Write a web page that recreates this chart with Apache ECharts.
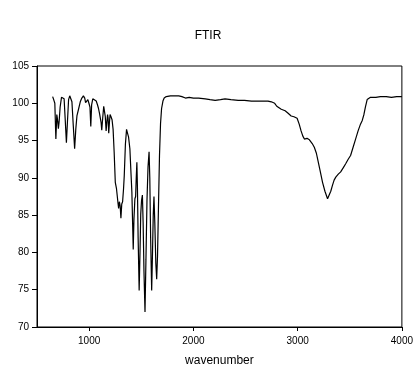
<!DOCTYPE html>
<html>
<head>
<meta charset="utf-8">
<script src="https://cdn.jsdelivr.net/npm/echarts@6/dist/echarts.min.js"></script>
<style>
html,body{margin:0;padding:0;background:#fff;}
#c{width:416px;height:372px;}
</style>
</head>
<body>
<div id="c"></div>
<script>
const titleText = 'FTIR';
const xAxisName = 'wavenumber';
const xTickValues = [1000, 2000, 3000, 4000];
const yTickMin = 70, yTickMax = 105, yTickStep = 5;

const wavenumber = [650,660,671,681,690,697,705,712,722,735,750,760,770,782,792,803,814,825,835,848,861,872,883,900,915,930,945,958,966,978,988,998,1008,1016,1024,1035,1050,1068,1080,1090,1100,1109,1115,1121,1130,1140,1148,1155,1163,1170,1177,1182,1188,1195,1201,1210,1220,1230,1240,1251,1262,1270,1278,1283,1290,1298,1305,1313,1321,1330,1337,1348,1359,1368,1378,1391,1402,1410,1417,1423,1430,1439,1446,1452,1458,1463,1470,1480,1488,1495,1503,1511,1518,1526,1536,1545,1555,1565,1575,1582,1590,1600,1608,1615,1622,1630,1640,1648,1656,1665,1675,1685,1695,1708,1720,1740,1780,1820,1860,1890,1924,1960,2000,2050,2114,2160,2209,2260,2304,2360,2430,2490,2557,2620,2685,2716,2748,2780,2800,2843,2880,2906,2938,2965,2995,3015,3033,3050,3065,3090,3113,3140,3160,3180,3192,3215,3239,3262,3287,3303,3318,3334,3350,3366,3390,3413,3440,3461,3485,3508,3530,3556,3580,3603,3620,3636,3650,3667,3699,3750,3794,3850,3900,3950,4000];
const transmittance = [100.9,100.5,100.0,95.2,98.5,97.8,96.6,97.5,99.5,100.8,101.0,100.6,98.0,94.7,97.5,100.5,101.0,100.8,100.2,97.0,93.9,96.5,98.3,99.3,100.2,100.7,101.0,100.7,100.1,100.3,100.5,100.0,99.5,96.9,99.8,100.6,100.5,100.3,99.8,99.3,98.6,98.4,97.4,96.4,98.0,99.6,99.4,98.2,96.3,97.5,98.5,98.0,96.0,97.5,98.5,98.2,97.8,96.5,93.5,89.4,88.6,88.4,86.5,85.9,86.8,86.2,84.6,86.5,86.8,88.5,90.3,94.5,96.5,96.0,95.5,93.9,90.5,88.1,84.0,80.4,84.5,87.2,87.5,90.0,92.1,89.0,82.0,74.9,80.0,85.1,87.0,87.7,84.0,77.5,72.0,79.0,87.0,91.5,93.5,90.0,82.0,74.9,80.0,85.0,87.5,84.0,78.5,76.4,79.5,86.0,93.0,97.3,99.3,100.3,100.7,100.9,101.0,101.0,101.0,100.9,100.7,100.8,100.7,100.7,100.6,100.5,100.4,100.5,100.6,100.5,100.4,100.4,100.3,100.3,100.3,100.3,100.2,100.0,99.6,99.2,99.0,98.7,98.3,98.2,98.0,97.2,96.3,95.6,95.2,95.3,95.1,94.6,94.1,93.3,92.5,91.0,89.4,88.2,87.2,87.2,88.2,89.0,89.7,90.1,90.5,90.8,91.4,91.9,92.5,93.0,94.0,95.2,96.3,97.2,97.7,98.5,99.5,100.5,100.8,100.8,100.9,100.9,100.8,100.9,100.9];

const seriesData = wavenumber.map((w, i) => [w, transmittance[i]]);
const font = '"Liberation Sans", Arial, sans-serif';

const chart = echarts.init(document.getElementById('c'), null, {renderer: 'canvas'});
chart.setOption({
  animation: false,
  backgroundColor: '#fff',
  title: {
    text: titleText, left: 'center', top: 25,
    textStyle: {fontFamily: font, fontSize: 12, fontWeight: 'normal', color: '#000'}
  },
  grid: {
    left: 37, right: 11, top: 66, bottom: 42,
    show: true, borderColor: '#000', borderWidth: 1, backgroundColor: 'transparent'
  },
  xAxis: {
    type: 'value', min: 500, max: 4000,
    name: xAxisName, nameLocation: 'middle', nameGap: 28,
    nameTextStyle: {fontFamily: font, fontSize: 12, color: '#000'},
    axisLine: {show: true, lineStyle: {color: '#000', width: 1}},
    axisTick: {show: true, length: 4, customValues: xTickValues, lineStyle: {color: '#000'}},
    axisLabel: {customValues: xTickValues, fontFamily: font, fontSize: 10, color: '#000', margin: 9,
      formatter: v => String(v)},
    splitLine: {show: false}
  },
  yAxis: {
    type: 'value', min: yTickMin, max: yTickMax, interval: yTickStep,
    axisLine: {show: true, lineStyle: {color: '#000', width: 1}},
    axisTick: {show: true, length: 5, lineStyle: {color: '#000'}},
    axisLabel: {fontFamily: font, fontSize: 10, color: '#000', margin: 8},
    splitLine: {show: false}
  },
  series: [{
    type: 'line', data: seriesData, showSymbol: false, symbol: 'none',
    lineStyle: {color: '#000', width: 1.2}, smooth: false
  }]
});
</script>
</body>
</html>
